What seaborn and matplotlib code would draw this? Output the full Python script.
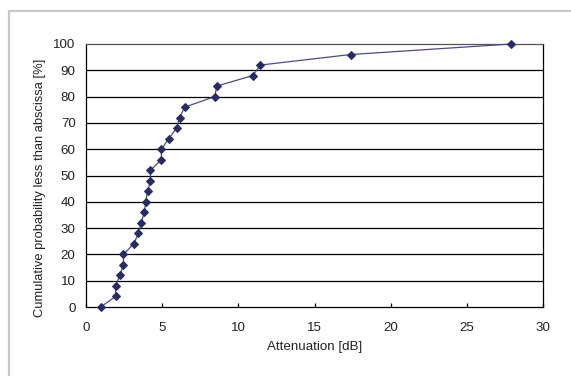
import matplotlib
matplotlib.use("Agg")
import matplotlib.pyplot as plt
import matplotlib.patches as mpatches
import seaborn as sns
import pandas as pd

# Measured attenuation values and their cumulative probabilities
attenuation_db = [0.96, 1.94, 1.94, 2.22, 2.46, 2.46, 3.13, 3.44, 3.63, 3.82,
                  3.92, 4.04, 4.23, 4.23, 4.95, 4.95, 5.43, 5.95, 6.14, 6.48,
                  8.46, 8.58, 10.95, 11.45, 17.38, 27.92]
cum_prob_pct = [0, 4, 8, 12, 16, 20, 24, 28, 32, 36,
                40, 44, 48, 52, 56, 60, 64, 68, 72, 76,
                80, 84, 88, 92, 96, 100]
x_ticks = [0, 5, 10, 15, 20, 25, 30]
y_ticks = [0, 10, 20, 30, 40, 50, 60, 70, 80, 90, 100]

df = pd.DataFrame({"Attenuation [dB]": attenuation_db,
                   "Cumulative probability": cum_prob_pct})

sns.set_theme(style="white")
plt.rcParams["font.family"] = ["Liberation Sans", "DejaVu Sans"]

FS = 9.6

fig = plt.figure(figsize=(5.71, 3.76), dpi=100)
fig.patch.set_facecolor("white")
ax = fig.add_axes([86 / 571, 1 - 307 / 376, (543 - 86) / 571, (307 - 44) / 376])

# chart-area frame
frame = mpatches.Rectangle((8.5 / 571, -0.5), 2.0, 0.5 + (1 - 10.5 / 376),
                           transform=fig.transFigure, fill=False,
                           edgecolor="#c8c8c8", linewidth=1.6, zorder=0)
fig.patches.append(frame)

for yv in y_ticks[1:-1]:
    ax.axhline(yv, color="black", linewidth=0.9, zorder=1)

sns.lineplot(data=df, x="Attenuation [dB]", y="Cumulative probability",
             sort=False, estimator=None, ax=ax, color="#4b4b8c", linewidth=0.9,
             marker="D", markersize=3.8, markerfacecolor="#2a2a66",
             markeredgecolor="#2a2a66", zorder=3, clip_on=False)

ax.set_xlim(0, 30)
ax.set_ylim(0, 100)
ax.set_xticks(x_ticks)
ax.set_yticks(y_ticks)
ax.tick_params(axis="x", direction="in", length=3, width=0.9, color="black",
               labelsize=FS, pad=10.5, bottom=True, labelcolor="#222222")
ax.tick_params(axis="y", length=0, labelsize=FS, pad=7.5, labelcolor="#222222")
ax.set_xlabel("Attenuation [dB]", fontsize=FS, labelpad=5, color="#222222")
ax.set_ylabel("Cumulative probability less than abscissa [%]", fontsize=9.3,
              color="#222222")
ax.yaxis.set_label_coords(-0.087, 0.452)

for side in ["left", "bottom", "right"]:
    ax.spines[side].set_color("black")
    ax.spines[side].set_linewidth(0.9)
ax.spines["top"].set_color("#555555")
ax.spines["top"].set_linewidth(0.9)

fig.savefig("out.png", dpi=100)
